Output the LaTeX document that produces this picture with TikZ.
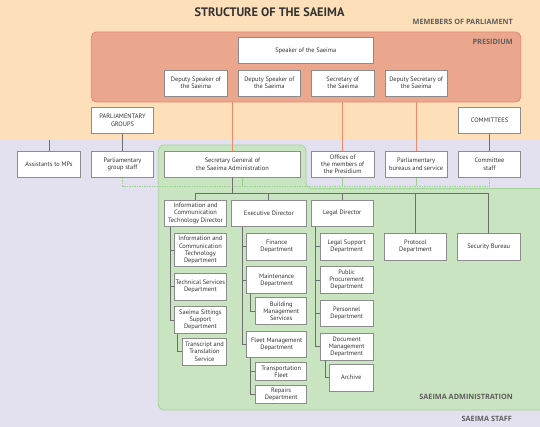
\documentclass[tikz,border=0pt]{standalone}
\usepackage{fontspec}
\setmainfont{PT Sans}
\newfontfamily\headfont{Open Sans}

\definecolor{mpbg}{HTML}{FDE0B9}
\definecolor{staffbg}{HTML}{E3E1F0}
\definecolor{presbg}{HTML}{EBA78E}
\definecolor{presline}{HTML}{E5886D}
\definecolor{adminbg}{HTML}{C9E4C1}
\definecolor{adminline}{HTML}{A5D29A}
\definecolor{boxline}{HTML}{8C8C8C}
\definecolor{linkgray}{HTML}{6E6E6E}
\definecolor{linkorange}{HTML}{EF8B6C}
\definecolor{linkgreen}{HTML}{9CD193}
\definecolor{labelgray}{HTML}{5E5E5E}
\definecolor{titlegray}{HTML}{333333}

\begin{document}
\begin{tikzpicture}[x=1pt,y=-1pt]
   \tikzstyle{unit}=[draw=boxline, fill=white, line width=0.7pt, align=center, inner sep=0pt, minimum width=62.5pt, minimum height=26.6pt, text=titlegray, font=\fontsize{6.4}{7.2}\selectfont]
   \tikzstyle{dept}=[unit, minimum width=52.7pt]
   \tikzstyle{area}=[anchor=east, inner sep=0pt, text=labelgray, font=\headfont\fontsize{7.3}{8}\selectfont\bfseries]
   \tikzstyle{link}=[draw=linkgray, line width=0.8pt]
   \tikzstyle{orangelink}=[draw=linkorange, line width=0.8pt]
   \tikzstyle{greenlink}=[draw=linkgreen, line width=0.8pt]
   \tikzstyle{dashedlink}=[greenlink, dash pattern=on 1.5pt off 1pt]

\useasboundingbox (0,0) rectangle (540,427);
\fill[mpbg] (0,0) rectangle (540,140);
\fill[staffbg] (0,140) rectangle (540,427);
\draw[adminline, fill=adminbg, line width=0.8pt, rounded corners=6pt]
    (158.3,145) -- (306,145) -- (306,188.5) -- (560,188.5) -- (560,410) -- (158.3,410) -- cycle;
\node[draw=presline, fill=presbg, line width=0.8pt, rounded corners=5pt, minimum width=429.4pt, minimum height=70pt] (presidium) at (306,67) {};

% titles
\node[text=titlegray, font=\fontsize{12.3}{14}\selectfont\bfseries] (title) at (269.5,12.3) {STRUCTURE OF THE SAEIMA};
\node[area] (mplabel) at (513,22) {MEMEBERS OF PARLIAMENT};
\node[area] (preslabel) at (513,42) {PRESIDIUM};
\node[area] (adminlabel) at (513,396.5) {SAEIMA ADMINISTRATION};
\node[area] (stafflabel) at (512,418.5) {SAEIMA STAFF};

% presidium
\node[unit, minimum width=135.7pt, minimum height=26pt] (speaker) at (305.8,50.5) {Speaker of the Saeima};
\node[unit, minimum height=26pt] (deputy1) at (195.9,83) {Deputy Speaker of\\the Saeima};
\node[unit, minimum height=26pt] (deputy2) at (269.3,83) {Deputy Speaker of\\the Saeima};
\node[unit, minimum height=26pt] (secretary) at (342.7,83) {Secretary of\\the Saeima};
\node[unit, minimum height=26pt] (deputysec) at (416.1,83) {Deputy Secretary of\\the Saeima};

\node[unit] (groups) at (122.5,120.2) {PARLIAMENTARY\\GROUPS};
\node[unit] (committees) at (489.5,120.2) {COMMITTEES};

% staff row
\node[unit] (assistants) at (49,164.3) {Assistants to MPs};
\node[unit] (groupstaff) at (122.5,164.3) {Parliamentary\\group staff};
\node[unit, minimum width=136pt] (secgen) at (232.5,164.3) {Secretary General of\\the Saeima Administration};
\node[unit] (offices) at (342.7,164.3) {Offices of\\the members of\\the Presidium};
\node[unit] (bureaus) at (416.1,164.3) {Parliamentary\\bureaus and service};
\node[unit] (comstaff) at (489.5,164.3) {Committee\\staff};

% administration
\node[unit] (ictdir) at (195.5,213.3) {Information and\\Communication\\Technology Director};
\node[unit, minimum width=75.7pt] (execdir) at (268.85,213.3) {Executive Director};
\node[unit, minimum width=62pt] (legaldir) at (342.3,213.3) {Legal Director};
\node[unit] (protocol) at (415.5,246.7) {Protocol\\Department};
\node[unit] (security) at (488.7,246.7) {Security Bureau};

\node[dept, minimum height=33.4pt] (ictdept) at (200.4,250) {Information and\\Communication\\Technology\\Department};
\node[dept] (techserv) at (200.4,286.7) {Technical Services\\Department};
\node[dept] (sittings) at (200.4,320) {Saeima Sittings\\Support\\Department};
\node[unit, minimum width=44.4pt] (transcript) at (204.5,351.7) {Transcript and\\Translation\\Service};

\node[unit, minimum width=60pt] (finance) at (276.7,246.7) {Finance\\Department};
\node[unit, minimum width=60pt] (maintenance) at (276.7,280) {Maintenance\\Department};
\node[unit, minimum width=51pt] (building) at (281.2,311) {Building\\Management\\Services};
\node[unit, minimum width=60pt] (fleet) at (276.7,344.3) {Fleet Management\\Department};
\node[unit, minimum width=51pt, minimum height=18.4pt] (transport) at (281.2,371.5) {Transportation\\Fleet};
\node[unit, minimum width=51pt, minimum height=18.4pt] (repairs) at (281.2,394.2) {Repairs\\Department};

\node[unit, minimum width=53.3pt] (legalsupport) at (346.7,246.7) {Legal Support\\Department};
\node[unit, minimum width=53.3pt] (procurement) at (346.7,280) {Public\\Procurement\\Department};
\node[unit, minimum width=53.3pt] (personnel) at (346.7,313.3) {Personnel\\Department};
\node[unit, minimum width=53.3pt] (documents) at (346.7,346.7) {Document\\Management\\Department};
\node[unit, minimum width=44.3pt] (archive) at (351.2,377.7) {Archive};

% connectors
\coordinate (mpedge) at (49,140);
\coordinate (rail) at (0,186);
\coordinate (bar) at (0,193.3);
\coordinate (ictspine) at (170,0);
\coordinate (execspine) at (242.7,0);
\coordinate (fleetspine) at (250.7,0);
\coordinate (legalspine) at (315.7,0);

\foreach \n in {secgen, offices, bureaus}
    \draw[orangelink] (\n.north) -- (\n.north |- presidium.south);
\draw[link] (assistants.north) -- (mpedge);
\draw[link] (groups) -- (groupstaff);
\draw[link] (committees) -- (comstaff);

\draw[dashedlink] (groupstaff.south) -- (groupstaff.south |- rail) -| (comstaff.south);
\draw[greenlink] ([xshift=10pt]secgen.south) -- ([xshift=10pt]secgen.south |- rail);
\draw[greenlink] (offices.south) -- (offices.south |- rail);
\draw[greenlink] (bureaus.south) -- (bureaus.south |- rail);

\draw[link] (secgen.south) -- (secgen.south |- bar);
\draw[link] (ictdir.north |- bar) -- (security.north |- bar);
\foreach \n in {ictdir, execdir, legaldir, protocol, security}
    \draw[link] (\n.north |- bar) -- (\n.north);

\draw[link] (ictdir.south -| ictspine) |- (sittings.west);
\foreach \n in {ictdept, techserv}
    \draw[link] (\n.west -| ictspine) -- (\n.west);
\draw[link] ([xshift=-23pt]sittings.south) |- (transcript.west);

\draw[link] (execdir.south -| execspine) |- (fleet.west);
\foreach \n in {finance, maintenance}
    \draw[link] (\n.west -| execspine) -- (\n.west);
\draw[link] (maintenance.south -| fleetspine) |- (building.west);
\draw[link] (fleet.south -| fleetspine) |- (repairs.west);
\draw[link] (transport.west -| fleetspine) -- (transport.west);

\draw[link] (legaldir.south -| legalspine) |- (documents.west);
\foreach \n in {legalsupport, procurement, personnel}
    \draw[link] (\n.west -| legalspine) -- (\n.west);
\draw[link] ([xshift=-21.7pt]documents.south) |- (archive.west);

\end{tikzpicture}
\end{document}
